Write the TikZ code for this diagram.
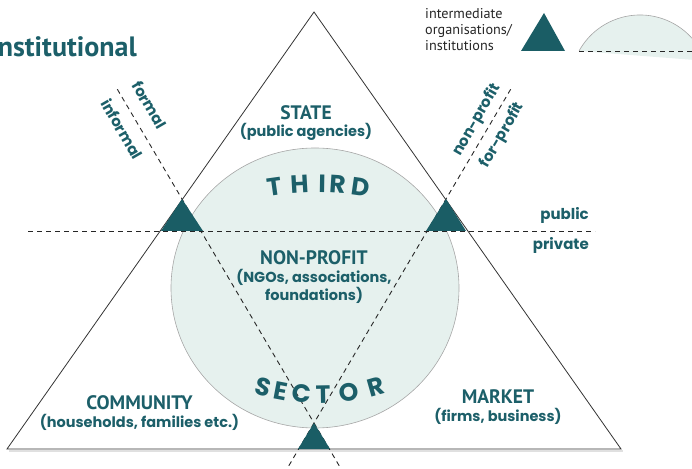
\documentclass[tikz,border=0pt]{standalone}
\usepackage{fontspec}
\setmainfont{Poppins}
\newfontfamily\headfont{PT Sans}
\usetikzlibrary{
  calc,
  positioning
}
\definecolor{deepteal}{HTML}{1C5F69}
\definecolor{markteal}{HTML}{1A5D65}
\definecolor{paleteal}{HTML}{E6F1EE}
\tikzset{
  % For the edges of the big triangle.
  edge/.style={
    line width=0.8pt,
    draw=black!80},
%
  % For the dashed dividing lines.
  divider/.style={
    line width=0.9pt,
    draw=black!85,
    dash pattern=on 5pt off 4pt},
%
  % For the third sector bubble.
  bubble/.style={
    fill=paleteal,
    draw=black!35,
    line width=0.6pt},
%
  % For filled triangle markers.
  marker/.style={
    fill=markteal},
%
  % For sector names.
  heading/.style={
    text=deepteal,
    inner sep=0pt,
    anchor=base,
    font=\headfont\bfseries\fontsize{19.5}{19.5}\selectfont},
%
  % For the lines below the sector names.
  subheading/.style={
    text=deepteal,
    inner sep=0pt,
    anchor=base,
    font=\bfseries\fontsize{14.5}{14.5}\selectfont},
%
  % For the labels of the dividing lines.
  side/.style={
    text=deepteal,
    inner sep=0pt,
    font=\bfseries\fontsize{15}{15}\selectfont},
%
  % For single letters set along an arc.
  arcletter/.style={
    text=deepteal,
    inner sep=0pt,
    anchor=base,
    font=\bfseries\fontsize{25}{25}\selectfont},
%
  % For the legend.
  legend/.style={
    text=black!85,
    inner sep=0pt,
    anchor=base west,
    font=\headfont\fontsize{14.2}{14.2}\selectfont},
%
  % For the page title.
  title/.style={
    text=deepteal,
    inner sep=0pt,
    anchor=base east,
    font=\headfont\bfseries\fontsize{28}{28}\selectfont}
}

\begin{document}
\begin{tikzpicture}[x=1pt, y=1pt]
  \useasboundingbox (0,0) rectangle (692,468);

  % Corners of the big triangle and crossing points of the dividers.
  \coordinate (top) at (314,456);
  \coordinate (cornerL) at (7,19);
  \coordinate (cornerR) at (621,19);
  \coordinate (crossL) at (182,269);
  \coordinate (crossR) at (446,269);
  \coordinate (crossB) at (314,45);

  % The third sector bubble.
  \draw[bubble] (315,180) ellipse [x radius=144, y radius=140];

  % Dividing lines.
  \draw[divider] (28,237) -- (595,237);
  \draw[divider] ($(crossL)!-0.49!(crossB)$) -- ($(crossL)!1.2!(crossB)$);
  \draw[divider] ($(crossR)!-0.49!(crossB)$) -- ($(crossR)!1.2!(crossB)$);

  % The big triangle with a faint shadow below.
  \draw[black!12, line width=2.5pt] ($(cornerL)+(2,-2)$) -- ($(cornerR)+(2,-2)$);
  \draw[edge, fill=none] (top) -- (cornerL) -- (cornerR) -- cycle;

  % Markers for intermediate organisations.
  \fill[marker] (crossL) -- ++(-21,-32) -- ++(42,0) -- cycle;
  \fill[marker] (crossR) -- ++(-20,-32) -- ++(40,0) -- cycle;
  \fill[marker] (crossB) -- ++(-16,-26) -- ++(32,0) -- cycle;

  % Sector names.
  \node[heading] (state) at (306,348) {STATE};
  \node[subheading] (stateinfo) at (306,331) {(public agencies)};
  \node[heading] (third) at (314,203) {NON-PROFIT};
  \node[subheading] (thirdinfo) at (314,185) {(NGOs, associations,};
  \node[subheading] (thirdmore) at (314,167) {foundations)};
  \node[heading] (community) at (139.5,59) {COMMUNITY};
  \node[subheading] (communityinfo) at (139.5,41) {(households, families etc.)};
  \node[heading] (market) at (498,65) {MARKET};
  \node[subheading] (marketinfo) at (498,47) {(firms, business)};

  % Letters along the arcs inside the bubble.
  \coordinate (thirdc) at (317.5,-24.5);
  \foreach \ch/\a [count=\i] in {T/97.95, H/93.34, I/89.14, R/86.27, D/81.86}
    \node[arcletter, rotate=\a-90] (third\i) at ($(thirdc)+(\a:300)$) {\ch};
  \coordinate (sectorc) at (319,280.5);
  \foreach \ch/\a [count=\i] in {S/254.4, E/259.3, C/265.2, T/271.1, O/278.3, R/285.9}
    \node[arcletter, rotate=\a-270] (sector\i) at ($(sectorc)+(\a:216)$) {\ch};

  % Labels of the dividing lines.
  \node[side, rotate=-60] (formal) at (149.5,363) {formal};
  \node[side, rotate=-60] (informal) at (122,339) {informal};
  \node[side, rotate=60] (nonprofit) at (477,348) {non-profit};
  \node[side, rotate=60] (forprofit) at (502.5,333) {for-profit};
  \node[side, anchor=base east] (public) at (589,248) {public};
  \node[side, anchor=base east] (private) at (589,218) {private};

  % Title, cut off at the left edge.
  \node[title] (pagetitle) at (137,411) {Institutional};

  % Legend.
  \foreach \word [count=\i] in {intermediate, organisations/, institutions}
    \node[legend] (legend\i) at (425,465-16*\i) {\word};
  \fill[marker] (544,455) -- (521,417) -- (565,417) -- cycle;
  \draw[bubble] (579,417) arc [start angle=151.1, end angle=20, radius=69.7];
  \draw[divider] (579,417) -- (700,417);
\end{tikzpicture}
\end{document}
